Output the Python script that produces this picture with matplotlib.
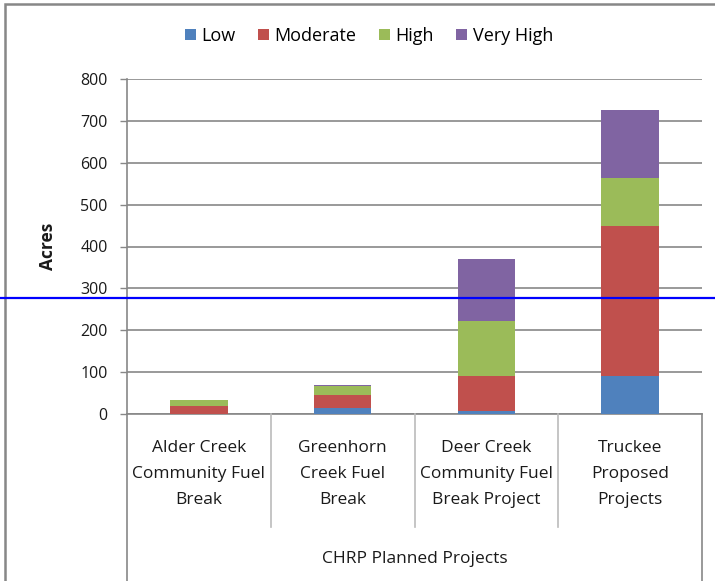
import matplotlib
matplotlib.use("Agg")
import matplotlib.pyplot as plt
from matplotlib.patches import Patch, Rectangle
from matplotlib.lines import Line2D
from matplotlib.transforms import blended_transform_factory
import numpy as np

plt.rcParams['font.family'] = ['Open Sans', 'DejaVu Sans']

projects = [
    "Alder Creek\nCommunity Fuel\nBreak",
    "Greenhorn\nCreek Fuel\nBreak",
    "Deer Creek\nCommunity Fuel\nBreak Project",
    "Truckee\nProposed\nProjects",
]
group_label = "CHRP Planned Projects"
series_names = ["Low", "Moderate", "High", "Very High"]
low = [0.5, 14, 6, 91]
moderate = [18, 32, 85, 358]
high = [14, 22, 131, 115]
very_high = [2, 1.5, 148, 162]
colors = ["#4F81BD", "#C0504D", "#9BBB59", "#8064A2"]
y_ticks = [0, 100, 200, 300, 400, 500, 600, 700, 800]
marker_level = 277.5

W, H = 715, 581
fig = plt.figure(figsize=(W / 100, H / 100), dpi=100)
ax_left, ax_right, ax_top, ax_bot = 127, 702, 79, 414
ax = fig.add_axes([ax_left / W, 1 - ax_bot / H, (ax_right - ax_left) / W, (ax_bot - ax_top) / H])

grid_c = "#878787"
text_c = "#1a1a1a"
x = np.arange(len(projects))
bottom = np.zeros(len(projects))
for vals, name, c in zip([low, moderate, high, very_high], series_names, colors):
    ax.bar(x, vals, 0.4, bottom=bottom, color=c, label=name, zorder=3)
    bottom += np.array(vals)

ax.set_xlim(-0.5, len(projects) - 0.5)
ax.set_ylim(0, 800)
ax.set_yticks(y_ticks)
ax.yaxis.grid(True, color=grid_c, linewidth=1.2, zorder=0)
ax.tick_params(axis='y', length=5, width=1, color=grid_c, labelsize=11.5,
               pad=9, labelcolor=text_c)
for s in ["top", "right"]:
    ax.spines[s].set_visible(False)
for s in ["left", "bottom"]:
    ax.spines[s].set_color(grid_c)
    ax.spines[s].set_linewidth(1.2)

ax.set_xticks(x)
ax.set_xticklabels(projects, fontsize=12.5, linespacing=1.8, color=text_c)
ax.tick_params(axis='x', length=0, pad=19)

ax.set_ylabel("Acres", fontsize=12.5, fontweight="bold", color=text_c)
ax.yaxis.set_label_coords((57 - ax_left) / (ax_right - ax_left), 0.5)

# category table lines below the axis
tr = blended_transform_factory(ax.transData, fig.transFigure)
for sep in x[:-1] + 0.5:
    fig.add_artist(Line2D([sep, sep], [1 - ax_bot / H, 1 - 527 / H], transform=tr,
                          color="#BBBBBB", linewidth=1.2))
for edge in [x[0] - 0.5, x[-1] + 0.5]:
    fig.add_artist(Line2D([edge, edge], [1 - ax_bot / H, 0], transform=tr,
                          color=grid_c, linewidth=1.2))
fig.text(np.mean(x), 1 - 559 / H, group_label, transform=tr, ha="center",
         va="center", fontsize=12.5, color=text_c)

# outer chart frame
fig.add_artist(Rectangle((5 / W, -0.1), 1.2, 1 - 4 / H + 0.1, transform=fig.transFigure,
                         fill=False, edgecolor=grid_c, linewidth=1.8))

# horizontal marker across the full width
tr2 = blended_transform_factory(fig.transFigure, ax.transData)
fig.add_artist(Line2D([0, 1], [marker_level, marker_level], transform=tr2,
                      color="#0000FF", linewidth=1.6))

handles = [Patch(facecolor=c, label=n) for c, n in zip(colors, series_names)]
fig.legend(handles=handles, loc="center", bbox_to_anchor=(369 / W, 1 - 36 / H),
           ncol=4, frameon=False, fontsize=13, handlelength=0.6, handleheight=0.6,
           handletextpad=0.3, columnspacing=1.25)

fig.savefig("out.png", dpi=100)
